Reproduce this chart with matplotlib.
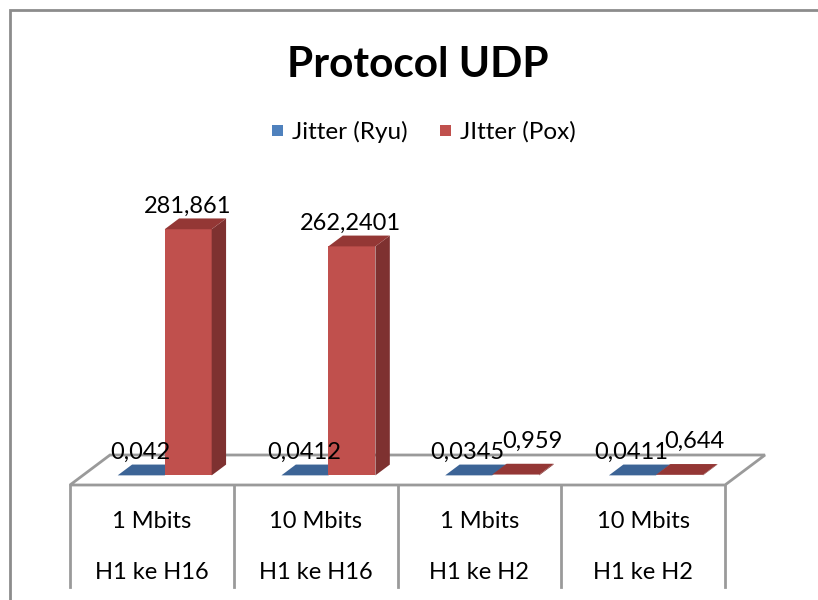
import matplotlib
matplotlib.use("Agg")
import matplotlib.pyplot as plt
from matplotlib.patches import Polygon, Rectangle

# data
speeds = ["1 Mbits", "10 Mbits", "1 Mbits", "10 Mbits"]
routes = ["H1 ke H16", "H1 ke H16", "H1 ke H2", "H1 ke H2"]
series_names = ["Jitter (Ryu)", "JItter (Pox)"]
jitter_ryu = [0.042, 0.0412, 0.0345, 0.0411]
jitter_pox = [281.861, 262.2401, 0.959, 0.644]
value_max = 300

# style
font = "Lato"
fs = 17
grey = "#9a9a9a"
face_cols = [("#4F81BD", "#3C6496", "#34577f"),   # front, top, side
             ("#C0504D", "#943735", "#7E3130")]
depth_px = (40, -30)          # floor depth offset in pixels
bar_depth = (0.32, 0.68)      # bar sits in the middle of the floor
bar_w = 0.287                 # fraction of a category
# nudges for small labels excel moved to avoid overlap
label_nudge = [[(0, 0)] * 4, [(0, 0), (0, 0), (18, -10), (16, -10)]]

fig = plt.figure(figsize=(8.18, 6.0), dpi=100)
ax = fig.add_axes([0, 0, 1, 1])
ax.set_xlim(0, 818)
ax.set_ylim(600, 0)
ax.axis("off")

# value scale axes (invisible), front edge of the floor at y=0
vax = fig.add_axes([70 / 818, (600 - 485) / 600, 655 / 818, 262 / 600])
vax.set_xlim(0, len(speeds))
vax.set_ylim(0, value_max)
vax.axis("off")

inv = ax.transData.inverted()


def to_px(x, v, d=0.0):
    px, py = inv.transform(vax.transData.transform((x, v)))
    return px + d * depth_px[0], py + d * depth_px[1]


# chart border (only left & top visible)
ax.plot([10, 10, 818], [600, 10, 10], color="#8c8c8c", lw=2, solid_joinstyle="miter")

# title
ax.text(418, 77, "Protocol UDP", fontsize=30.5, fontweight="bold", family=font,
        ha="center", va="baseline", color="black")

# legend
lx = [272, 440]
for i, name in enumerate(series_names):
    ax.add_patch(Rectangle((lx[i], 125), 11, 11, color=face_cols[i][0], lw=0))
    ax.text(lx[i] + 20, 139, name, fontsize=fs + 0.5, family=font, ha="left",
            va="baseline", color="black")

# floor
n = len(speeds)
fl = [to_px(0, 0), to_px(n, 0), to_px(n, 0, 1), to_px(0, 0, 1)]
ax.add_patch(Polygon(fl, closed=True, facecolor="white", edgecolor=grey, lw=2, zorder=1))

# category boxes below the floor
for i in range(n + 1):
    x0, y0 = to_px(i, 0)
    ax.plot([x0, x0], [y0, y0 + 102], color=grey, lw=2, zorder=1)
for i in range(n):
    cx, cy = to_px(i + 0.5, 0)
    ax.text(cx, cy + 43, speeds[i], fontsize=fs, family=font, ha="center",
            va="baseline")
    ax.text(cx, cy + 94, routes[i], fontsize=fs, family=font, ha="center",
            va="baseline")

# bars
d0, d1 = bar_depth
for s, vals in enumerate([jitter_ryu, jitter_pox]):
    front, top, side = face_cols[s]
    for i, v in enumerate(vals):
        xl = i + 0.5 - bar_w + s * bar_w
        xr = xl + bar_w
        fb_l, fb_r = to_px(xl, 0, d0), to_px(xr, 0, d0)
        ft_l, ft_r = to_px(xl, v, d0), to_px(xr, v, d0)
        bb_r = to_px(xr, 0, d1)
        bt_l, bt_r = to_px(xl, v, d1), to_px(xr, v, d1)
        z = 2 + s
        ax.add_patch(Polygon([fb_l, fb_r, ft_r, ft_l], facecolor=front, lw=0, zorder=z))
        ax.add_patch(Polygon([fb_r, bb_r, bt_r, ft_r], facecolor=side, lw=0, zorder=z))
        ax.add_patch(Polygon([ft_l, ft_r, bt_r, bt_l], facecolor=top, lw=0, zorder=z))
        # value label
        cx = (ft_l[0] + ft_r[0]) / 2 - 1
        by = bt_l[1] - 6
        nx, ny = label_nudge[s][i]
        ax.text(cx + nx, by + ny, str(v).replace(".", ","), fontsize=fs,
                family=font, ha="center", va="baseline", zorder=5)

fig.savefig("out.png", dpi=100, facecolor="white")
